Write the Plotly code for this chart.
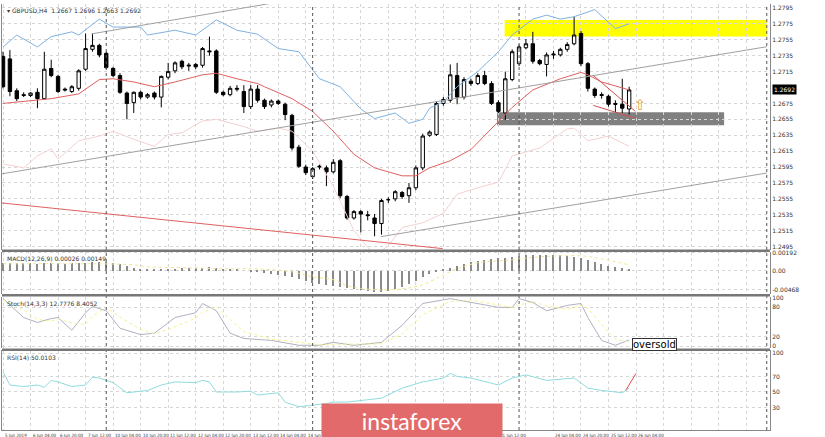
import plotly.graph_objects as go

# GBPUSD H4 candles, 5 Jun 2019 12:00 .. 26 Jun 2019
opens = [1.2734, 1.2731, 1.2691, 1.2686, 1.2685, 1.2689, 1.2681, 1.2719, 1.2709, 1.2693,
         1.2690, 1.2694, 1.2718, 1.2743, 1.2748, 1.2738, 1.2719, 1.2710, 1.2688, 1.2676,
         1.2689, 1.2683, 1.2688, 1.2683, 1.2708, 1.2716, 1.2728, 1.2722, 1.2724, 1.2723,
         1.2741, 1.2741, 1.2689, 1.2686, 1.2694, 1.2690, 1.2671, 1.2693, 1.2679, 1.2673,
         1.2678, 1.2674, 1.2660, 1.2620, 1.2595, 1.2583, 1.2595, 1.2594, 1.2589, 1.2603,
         1.2558, 1.2531, 1.2539, 1.2535, 1.2531, 1.2524, 1.2554, 1.2555, 1.2563, 1.2559,
         1.2569, 1.2594, 1.2635, 1.2636, 1.2675, 1.2679, 1.2710, 1.2683, 1.2703, 1.2700,
         1.2710, 1.2700, 1.2676, 1.2663, 1.2705, 1.2725, 1.2745, 1.2750, 1.2729, 1.2724,
         1.2736, 1.2736, 1.2743, 1.2750, 1.2763, 1.2725, 1.2693, 1.2685, 1.2684, 1.2675,
         1.2674, 1.2668]
highs = [1.2740, 1.2742, 1.2694, 1.2689, 1.2689, 1.2694, 1.2740, 1.2730, 1.2711, 1.2695,
         1.2698, 1.2718, 1.2763, 1.2763, 1.2750, 1.2740, 1.2721, 1.2713, 1.2690, 1.2690,
         1.2691, 1.2688, 1.2690, 1.2710, 1.2726, 1.2728, 1.2730, 1.2726, 1.2726, 1.2746,
         1.2759, 1.2743, 1.2691, 1.2697, 1.2698, 1.2698, 1.2698, 1.2698, 1.2681, 1.2680,
         1.2680, 1.2676, 1.2662, 1.2623, 1.2598, 1.2595, 1.2598, 1.2597, 1.2605, 1.2605,
         1.2560, 1.2541, 1.2541, 1.2540, 1.2536, 1.2555, 1.2557, 1.2566, 1.2565, 1.2575,
         1.2597, 1.2637, 1.2641, 1.2677, 1.2683, 1.2724, 1.2726, 1.2708, 1.2706, 1.2713,
         1.2716, 1.2703, 1.2679, 1.2715, 1.2743, 1.2749, 1.2756, 1.2765, 1.2731, 1.2739,
         1.2741, 1.2745, 1.2752, 1.2784, 1.2766, 1.2727, 1.2695, 1.2689, 1.2686, 1.2679,
         1.2706, 1.2696]
lows = [1.2694, 1.2684, 1.2678, 1.2683, 1.2683, 1.2669, 1.2680, 1.2708, 1.2688, 1.2690,
        1.2688, 1.2691, 1.2716, 1.2740, 1.2733, 1.2718, 1.2708, 1.2687, 1.2655, 1.2663,
        1.2680, 1.2681, 1.2680, 1.2670, 1.2705, 1.2713, 1.2718, 1.2716, 1.2718, 1.2720,
        1.2735, 1.2687, 1.2684, 1.2684, 1.2690, 1.2663, 1.2668, 1.2676, 1.2668, 1.2670,
        1.2673, 1.2654, 1.2616, 1.2594, 1.2585, 1.2580, 1.2592, 1.2571, 1.2587, 1.2556,
        1.2529, 1.2529, 1.2513, 1.2528, 1.2508, 1.2510, 1.2550, 1.2552, 1.2555, 1.2550,
        1.2566, 1.2591, 1.2633, 1.2634, 1.2672, 1.2676, 1.2674, 1.2680, 1.2697, 1.2698,
        1.2698, 1.2673, 1.2663, 1.2654, 1.2703, 1.2722, 1.2743, 1.2725, 1.2723, 1.2709,
        1.2731, 1.2734, 1.2740, 1.2748, 1.2722, 1.2690, 1.2682, 1.2681, 1.2671, 1.2664,
        1.2663, 1.2661]
closes = [1.2696, 1.2690, 1.2681, 1.2685, 1.2688, 1.2681, 1.2718, 1.2710, 1.2690, 1.2692,
          1.2696, 1.2716, 1.2744, 1.2748, 1.2736, 1.2720, 1.2710, 1.2689, 1.2675, 1.2689,
          1.2683, 1.2686, 1.2683, 1.2709, 1.2715, 1.2726, 1.2721, 1.2723, 1.2721, 1.2744,
          1.2740, 1.2689, 1.2686, 1.2694, 1.2693, 1.2671, 1.2693, 1.2679, 1.2671, 1.2678,
          1.2675, 1.2661, 1.2619, 1.2596, 1.2588, 1.2593, 1.2596, 1.2589, 1.2601, 1.2559,
          1.2531, 1.2539, 1.2536, 1.2534, 1.2524, 1.2553, 1.2554, 1.2564, 1.2558, 1.2569,
          1.2594, 1.2634, 1.2639, 1.2675, 1.2680, 1.2711, 1.2683, 1.2705, 1.2700, 1.2710,
          1.2700, 1.2675, 1.2665, 1.2706, 1.2740, 1.2746, 1.2750, 1.2728, 1.2725, 1.2736,
          1.2737, 1.2743, 1.2749, 1.2761, 1.2725, 1.2694, 1.2685, 1.2686, 1.2674, 1.2674,
          1.2669, 1.2692]

# Bollinger bands (sampled)
bb_up_x = [0, 2, 3, 5, 7, 10, 11, 14, 16, 20, 21, 25, 28, 31, 34, 37, 40, 43, 46, 49, 52, 54,
           57, 59, 61, 62, 64, 66, 69, 72, 74, 77, 79, 81, 83, 86, 89, 91]
bb_up = [1.2746, 1.2761, 1.2756, 1.2746, 1.2759, 1.2765, 1.2761, 1.2781, 1.2771, 1.2771, 1.2761,
         1.2767, 1.2761, 1.2780, 1.2767, 1.2762, 1.2744, 1.2740, 1.2706, 1.2696, 1.2668, 1.2656,
         1.2663, 1.2650, 1.2655, 1.2669, 1.2677, 1.2696, 1.2715, 1.2740, 1.2761, 1.2781, 1.2786,
         1.2781, 1.2784, 1.2793, 1.2769, 1.2775]
bb_mid_x = [0, 7, 11, 14, 16, 19, 22, 25, 29, 31, 34, 37, 38, 42, 45, 48, 51, 54, 58, 60, 62, 65,
            68, 71, 74, 77, 81, 84, 85, 87, 91]
bb_mid = [1.2675, 1.2681, 1.2687, 1.2705, 1.2706, 1.2702, 1.2696, 1.2702, 1.2711, 1.2713, 1.2706,
          1.2700, 1.2696, 1.2681, 1.2665, 1.2640, 1.2611, 1.2594, 1.2584, 1.2584, 1.2594, 1.2603,
          1.2617, 1.2643, 1.2670, 1.2692, 1.2706, 1.2714, 1.2711, 1.2702, 1.2692]
bb_low_x = [0, 3, 5, 7, 8, 11, 14, 16, 19, 22, 24, 26, 29, 31, 35, 37, 40, 42, 45, 48, 51, 54, 56,
            58, 61, 64, 66, 69, 72, 74, 78, 82, 83, 85, 88, 91]
bb_low = [1.2599, 1.2594, 1.2609, 1.2618, 1.2605, 1.2628, 1.2634, 1.2640, 1.2630, 1.2621, 1.2636,
          1.2638, 1.2653, 1.2655, 1.2646, 1.2640, 1.2644, 1.2640, 1.2615, 1.2571, 1.2515, 1.2484,
          1.2496, 1.2519, 1.2525, 1.2537, 1.2561, 1.2569, 1.2576, 1.2609, 1.2619, 1.2643, 1.2644,
          1.2628, 1.2634, 1.2621]

# MACD(12,26,9), in 1e-5
macd_hist_e5 = [86, 86, 86, 86, 86, 75, 86, 86, 86, 75, 86, 86, 86, 96, 96,
                96, 86, 75, 54, 32, 11,
                11, 11, 11, 21, 21, 32,
                32, 32, 32, 43, 32, 21, 11,
                11, 0, -11, -11, -21, -32, -43,
                -54, -64, -86, -107, -128, -139,
                -150, -161, -171, -182, -193, -203, -214, -225, -225,
                -214, -193, -171, -139, -107, -64, -32,
                -11, 11, 32, 54, 75, 96, 107, 118,
                128, 139, 139, 150, 161, 171, 171, 171, 171, 171,
                171, 161, 150, 139, 118, 96,
                75, 54, 43, 32, 21]
macd_sig_x = [0, 14, 19, 21, 27, 33, 37, 42, 45, 48, 50, 54, 58, 61, 64, 66, 69, 74, 78, 84, 87, 91]
macd_sig_e5 = [75, 75, 64, 43, 32, 21, 21, -11, -64, -96, -161, -203, -193, -150, -43, 21, 86,
               118, 150, 161, 128, 64]

# Stochastic(14,3,3)
st_x = [0, 3, 5, 7, 8, 10, 12, 13, 15, 17, 20, 22, 25, 28, 29, 31, 33, 35, 39, 43, 46, 48, 51, 55,
        58, 61, 65, 68, 72, 74, 75, 77, 79, 82, 84, 85, 87, 89, 91]
st_main = [98, 59, 49, 57, 59, 33, 69, 82, 73, 37, 24, 27, 59, 69, 88, 73, 27, 16, 12, 2, 2, 8, 2, 8,
           43, 88, 98, 90, 80, 80, 98, 90, 73, 84, 88, 59, 12, 2, 13]
st_sig = [95, 75, 55, 52, 56, 48, 45, 62, 80, 60, 35, 25, 40, 58, 70, 82, 55, 30, 15, 8, 3, 4, 5, 5,
          25, 65, 92, 95, 85, 80, 85, 92, 83, 76, 84, 78, 45, 15, 8]

# RSI(14)
rsi_x = [0, 1, 3, 5, 6, 7, 8, 10, 12, 13, 14, 16, 18, 20, 21, 23, 25, 28, 29, 30, 31, 34, 36, 37,
         40, 41, 43, 45, 47, 48, 50, 55, 58, 61, 64, 65, 66, 68, 72, 74, 76, 79, 82, 83, 85, 87,
         90, 91]
rsi = [76, 59, 57, 59, 56, 65, 63, 57, 59, 69, 68, 62, 49, 51, 52, 59, 63, 62, 65, 63, 50, 50, 51,
       46, 49, 37, 31, 33, 35, 37, 37, 42, 55, 63, 68, 74, 70, 68, 59, 68, 72, 65, 67, 68, 55, 52,
       49, 55]
rsi_end_x = [90.5, 92]
rsi_end = [52, 74]

tick_idx = [0, 4, 8, 12, 16, 20, 24, 28, 32, 36, 40, 44, 72, 80, 84, 88, 92]
tick_txt = ['5 Jun 2019', '6 Jun 04:00', '6 Jun 20:00', '7 Jun 12:00', '10 Jun 04:00',
            '10 Jun 20:00', '11 Jun 12:00', '12 Jun 04:00', '12 Jun 20:00', '13 Jun 12:00',
            '14 Jun 04:00', '14 Jun 20:00', '21 Jun 12:00', '24 Jun 04:00', '24 Jun 20:00',
            '25 Jun 12:00', '26 Jun 04:00']
week_sep = [15, 45, 75, 111]
price_ticks = [1.2495, 1.2515, 1.2535, 1.2555, 1.2575, 1.2595, 1.2615, 1.2635, 1.2655, 1.2675,
               1.2715, 1.2735, 1.2755, 1.2775, 1.2795]

idx = list(range(len(closes)))
GRID = '#d6d6d6'
TF = dict(family='DejaVu Sans', size=6, color='#333')

fig = go.Figure()
fig.add_trace(go.Scatter(x=bb_low_x, y=bb_low, mode='lines', line=dict(color='#f5d0d0', width=1), yaxis='y'))
fig.add_trace(go.Scatter(x=bb_up_x, y=bb_up, mode='lines', line=dict(color='#7fb2e0', width=1), yaxis='y'))
fig.add_trace(go.Scatter(x=bb_mid_x, y=bb_mid, mode='lines', line=dict(color='#e06060', width=1), yaxis='y'))
fig.add_trace(go.Candlestick(
    x=idx, open=opens, high=highs, low=lows, close=closes, whiskerwidth=0,
    increasing=dict(line=dict(color='black', width=1), fillcolor='white'),
    decreasing=dict(line=dict(color='black', width=1), fillcolor='black'),
    yaxis='y'))

fig.add_trace(go.Bar(x=idx, y=[v * 1e-5 for v in macd_hist_e5], width=0.2,
                     marker=dict(color='#8a8a8a', line=dict(width=0)), yaxis='y2'))
fig.add_trace(go.Scatter(x=macd_sig_x, y=[v * 1e-5 for v in macd_sig_e5], mode='lines',
                         line=dict(color='#f0e68c', width=1, dash='dot', shape='spline'), yaxis='y2'))

fig.add_trace(go.Scatter(x=st_x, y=st_main, mode='lines', line=dict(color='#b0b0c0', width=1), yaxis='y3'))
fig.add_trace(go.Scatter(x=st_x, y=st_sig, mode='lines', line=dict(color='#f5f08a', width=1, dash='dot'), yaxis='y3'))

fig.add_trace(go.Scatter(x=rsi_x, y=rsi, mode='lines', line=dict(color='#8fdcdc', width=1), yaxis='y4'))
fig.add_trace(go.Scatter(x=rsi_end_x, y=rsi_end, mode='lines', line=dict(color='#e05050', width=1), yaxis='y4'))

shapes = []
# zones
shapes.append(dict(type='rect', xref='x', yref='y', x0=72.9, x1=111.0, y0=1.2759, y1=1.2780,
                   fillcolor='#ffff00', line=dict(width=0), layer='below'))
shapes.append(dict(type='rect', xref='x', yref='y', x0=71.8, x1=104.8, y0=1.26475, y1=1.26638,
                   fillcolor='#808080', line=dict(width=0), layer='below'))
# trend lines
for x0, y0, x1, y1, c in [(-0.3, 1.25863, 111, 1.27463, '#a0a0a0'),
                          (12.9, 1.27625, 40.06, 1.28025, '#a0a0a0'),
                          (54.9, 1.25075, 111, 1.25875, '#a0a0a0'),
                          (-0.3, 1.25500, 63.9, 1.24925, '#e06060'),
                          (85.8, 1.27100, 91.9, 1.26650, '#d05050'),
                          (85.8, 1.26725, 91.9, 1.26563, '#d05050')]:
    shapes.append(dict(type='line', xref='x', yref='y', x0=x0, y0=y0, x1=x1, y1=y1,
                       line=dict(color=c, width=1)))
for s in week_sep:
    shapes.append(dict(type='line', xref='x', yref='paper', x0=s, x1=s, y0=0, y1=1,
                       line=dict(color='#555', width=1, dash='dot')))
for yp in [0.4206, 0.3166, 0.1881]:
    shapes.append(dict(type='line', xref='paper', yref='paper', x0=0, x1=1, y0=yp, y1=yp,
                       line=dict(color='#777', width=2.5)))

annotations = [
    dict(xref='paper', yref='paper', x=0.004, y=0.997, xanchor='left', yanchor='top', showarrow=False,
         text='▾ GBPUSD,H4  1.2667 1.2696 1.2663 1.2692', font=TF),
    dict(xref='paper', yref='paper', x=0.004, y=0.415, xanchor='left', yanchor='top', showarrow=False,
         text='MACD(12,26,9) 0.00026 0.00149', font=TF),
    dict(xref='paper', yref='paper', x=0.004, y=0.311, xanchor='left', yanchor='top', showarrow=False,
         text='Stoch(14,3,3) 12.7776 8.4052', font=TF),
    dict(xref='paper', yref='paper', x=0.004, y=0.182, xanchor='left', yanchor='top', showarrow=False,
         text='RSI(14) 50.0103', font=TF),
    dict(xref='paper', yref='y', x=1.002, y=1.2692, xanchor='left', showarrow=False, text='1.2692',
         bgcolor='black', font=dict(family='DejaVu Sans', size=6, color='white'), borderpad=1),
    dict(xref='x', yref='y', x=92.7, y=1.2673, showarrow=False, text='⇧',
         font=dict(family='DejaVu Sans', size=15, color='#f0a030')),
    dict(xref='x', yref='y3', x=91.4, y=4, xanchor='left', showarrow=False, text='oversold',
         bgcolor='white', bordercolor='#333', borderwidth=1, borderpad=0,
         font=dict(family='DejaVu Sans', size=10, color='black')),
]
for t, s in zip(tick_idx, tick_txt):
    annotations.append(dict(xref='x', yref='paper', x=t, y=-0.002, xanchor='left', yanchor='top',
                            showarrow=False, text=s,
                            font=dict(family='DejaVu Sans Condensed', size=4.5, color='#333')))
# logo
annotations.append(dict(xref='paper', yref='paper', x=0.5345, y=0.021, xanchor='center',
                        yanchor='middle', showarrow=False,
                        text='instaforex', width=178, height=32, bgcolor='#e36a6a',
                        font=dict(family='Lato', size=23, color='white')))

ax = dict(showgrid=True, gridcolor=GRID, griddash='dot', gridwidth=1, zeroline=False,
          side='right', tickfont=TF, ticks='', showline=True, linecolor='#888', mirror=True,
          fixedrange=True)
fig.update_layout(
    width=825, height=437, margin=dict(l=1, r=55, t=2, b=7),
    paper_bgcolor='white', plot_bgcolor='white', showlegend=False, bargap=0,
    xaxis=dict(range=[-0.15, 111.47], tickvals=list(range(0, 112, 4)), showticklabels=False,
               showgrid=True, gridcolor=GRID, griddash='dot', zeroline=False,
               rangeslider=dict(visible=False), anchor='y4', showline=True, linecolor='#888',
               mirror=True),
    yaxis=dict(ax, domain=[0.423, 1], range=[1.2491, 1.2800], tickvals=price_ticks,
               ticktext=[f'{v:.4f}' for v in price_ticks]),
    yaxis2=dict(ax, domain=[0.320, 0.418], range=[-0.00246, 0.00203],
                tickvals=[0.00192, 0, -0.00203], ticktext=['0.00192', '0.00', '-0.00468']),
    yaxis3=dict(ax, domain=[0.192, 0.313], range=[-4, 102], tickvals=[100, 80, 20, 0]),
    yaxis4=dict(ax, domain=[0, 0.185], range=[1, 102.6], tickvals=[100, 70, 50, 30]),
    shapes=shapes, annotations=annotations,
)

fig.write_html('out.html', config={'displayModeBar': False},
               post_script="document.body.style.margin='0';")
